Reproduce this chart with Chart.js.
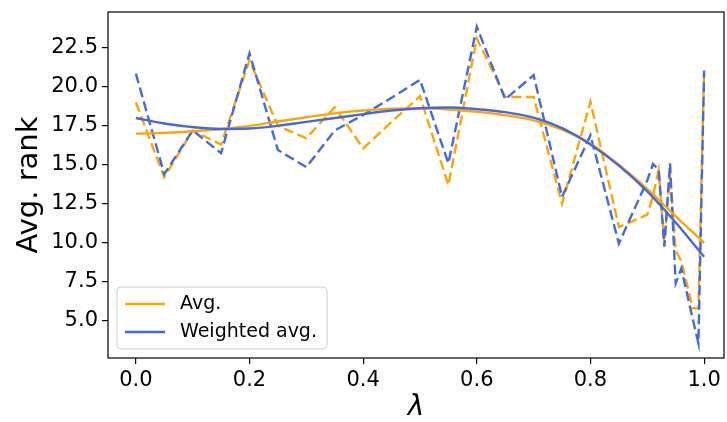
<!DOCTYPE html>
<html>
<head>
<meta charset="utf-8">
<script src="https://cdn.jsdelivr.net/npm/chart.js@4.4.1/dist/chart.umd.min.js"></script>
<style>
  html, body { margin: 0; padding: 0; background: #fff; }
  canvas { display: block; }
</style>
</head>
<body>
<canvas id="rankChart" width="727" height="422"></canvas>
<script>
// lambda values of the raw runs
const lambdas = [0, 0.05, 0.1, 0.15, 0.2, 0.25, 0.3, 0.35, 0.4, 0.45, 0.5, 0.55, 0.6, 0.65, 0.7, 0.75, 0.8, 0.85, 0.9,
                 0.91, 0.92, 0.93, 0.94, 0.95, 0.96, 0.98, 0.99, 1.0];
const avgRank = [19.0, 14.2, 17.2, 16.3, 21.7, 17.5, 16.7, 18.7, 16.05, 17.75, 19.4, 13.7, 23.1, 19.35, 19.35, 12.5, 19.05, 11.0, 11.8,
                 13.0, 14.65, 10.0, 14.5, 9.5, 8.8, 5.8, 5.8, 21.0];
const weightedRank = [20.85, 14.4, 17.2, 15.75, 22.15, 15.95, 14.85, 17.2, 18.2, 19.3, 20.45, 15.1, 23.85, 19.2, 20.75, 12.95, 16.9, 9.95, 14.0,
                      15.05, 14.7, 9.75, 15.1, 7.4, 8.35, 5.1, 3.55, 21.05];

// smoothed fits, sampled along lambda
const fitLambdas = [0, 0.05, 0.1, 0.15, 0.2, 0.25, 0.3, 0.35, 0.4, 0.45, 0.5, 0.55, 0.6, 0.65, 0.7, 0.75, 0.8, 0.85, 0.9, 0.95, 1.0];
const avgFit = [17.0, 17.05, 17.15, 17.3, 17.5, 17.78, 18.05, 18.3, 18.48, 18.6, 18.62, 18.55, 18.4, 18.18, 17.85, 17.25, 16.35, 15.0, 13.45, 11.7, 10.0];
const weightedFit = [18.0, 17.65, 17.42, 17.3, 17.33, 17.5, 17.75, 18.0, 18.25, 18.48, 18.63, 18.68, 18.57, 18.38, 18.02, 17.35, 16.3, 14.95, 13.3, 11.3, 9.1];

const xTicks = [0, 0.2, 0.4, 0.6, 0.8, 1.0];
const yTicks = [5, 7.5, 10, 12.5, 15, 17.5, 20, 22.5];

const ORANGE = '#FFA500';
const BLUE = '#4169E1';

function pairs(xs, ys) {
    return xs.map((x, i) => ({x: x, y: ys[i]}));
}

// box around the plot area
const frame = {
    id: 'frame',
    afterDatasetsDraw(chart) {
        const {ctx, chartArea: a} = chart;
        ctx.save();
        ctx.strokeStyle = '#000';
        ctx.lineWidth = 1.2;
        ctx.strokeRect(a.left, a.top, a.right - a.left, a.bottom - a.top);
        ctx.restore();
    }
};

// legend drawn inside the plot, lower left
const innerLegend = {
    id: 'innerLegend',
    afterDraw(chart) {
        const ctx = chart.ctx;
        const a = chart.chartArea;
        const x = a.left + 9, y = a.bottom - 71, w = 210, h = 62;
        ctx.save();
        ctx.beginPath();
        ctx.roundRect(x, y, w, h, 4);
        ctx.fillStyle = 'rgba(255,255,255,0.8)';
        ctx.fill();
        ctx.strokeStyle = '#cccccc';
        ctx.lineWidth = 1;
        ctx.stroke();
        const items = chart.data.datasets
            .filter(d => d.legendPos !== undefined)
            .sort((p, q) => p.legendPos - q.legendPos);
        items.forEach((d, i) => {
            const cy = y + 17 + i * 28;
            ctx.beginPath();
            ctx.moveTo(x + 8, cy);
            ctx.lineTo(x + 48, cy);
            ctx.strokeStyle = d.borderColor;
            ctx.lineWidth = 2.4;
            ctx.stroke();
            ctx.fillStyle = '#000';
            ctx.font = '19px "DejaVu Sans"';
            ctx.textBaseline = 'middle';
            ctx.fillText(d.label, x + 63, cy);
        });
        ctx.restore();
    }
};

function noEdgePadding(scale) {
    scale.paddingTop = 0;
    scale.paddingBottom = 0;
    scale.paddingLeft = 0;
    scale.paddingRight = 0;
}

new Chart(document.getElementById('rankChart'), {
    type: 'line',
    data: {
        datasets: [
            {
                label: 'Weighted avg.',
                legendPos: 1,
                data: pairs(fitLambdas, weightedFit),
                borderColor: BLUE,
                borderWidth: 2.4,
                cubicInterpolationMode: 'monotone',
                pointRadius: 0,
                order: 0
            },
            {
                label: 'Avg.',
                legendPos: 0,
                data: pairs(fitLambdas, avgFit),
                borderColor: ORANGE,
                borderWidth: 2.4,
                cubicInterpolationMode: 'monotone',
                pointRadius: 0,
                order: 1
            },
            {
                label: 'Weighted avg. (raw)',
                data: pairs(lambdas, weightedRank),
                borderColor: BLUE,
                borderWidth: 2.4,
                borderDash: [10, 4.5],
                tension: 0,
                pointRadius: 0,
                order: 2
            },
            {
                label: 'Avg. (raw)',
                data: pairs(lambdas, avgRank),
                borderColor: ORANGE,
                borderWidth: 2.4,
                borderDash: [10, 4.5],
                tension: 0,
                pointRadius: 0,
                order: 3
            }
        ]
    },
    options: {
        responsive: false,
        animation: false,
        devicePixelRatio: 1,
        layout: { padding: { top: 12, right: 3, left: 0, bottom: 0 } },
        plugins: {
            legend: { display: false },
            tooltip: { enabled: false }
        },
        scales: {
            x: {
                type: 'linear',
                min: -0.049,
                max: 1.035,
                afterBuildTicks: scale => { scale.ticks = xTicks.map(v => ({value: v})); },
                afterFit: scale => { scale.height = 64; noEdgePadding(scale); },
                border: { display: false },
                grid: {
                    drawOnChartArea: false,
                    drawTicks: true,
                    tickLength: 6,
                    color: '#000',
                    lineWidth: 1.2
                },
                ticks: {
                    color: '#000',
                    padding: 4,
                    maxRotation: 0,
                    font: { family: 'DejaVu Sans', size: 21 },
                    callback: v => v.toFixed(1)
                },
                title: {
                    display: true,
                    text: 'λ',
                    color: '#000',
                    padding: { top: 0, bottom: 0 },
                    font: { family: 'DejaVu Sans', size: 28, style: 'italic', lineHeight: 1 }
                }
            },
            y: {
                type: 'linear',
                min: 2.61,
                max: 24.8,
                afterBuildTicks: scale => { scale.ticks = yTicks.map(v => ({value: v})); },
                afterFit: scale => { scale.width = 108; noEdgePadding(scale); },
                border: { display: false },
                grid: {
                    drawOnChartArea: false,
                    drawTicks: true,
                    tickLength: 6,
                    color: '#000',
                    lineWidth: 1.2
                },
                ticks: {
                    color: '#000',
                    padding: 4,
                    font: { family: 'DejaVu Sans', size: 21 },
                    callback: v => v.toFixed(1)
                },
                title: {
                    display: true,
                    text: 'Avg. rank',
                    color: '#000',
                    padding: { top: 15, bottom: 0 },
                    font: { family: 'DejaVu Sans', size: 29, lineHeight: 1 }
                }
            }
        }
    },
    plugins: [frame, innerLegend]
});
</script>
</body>
</html>
